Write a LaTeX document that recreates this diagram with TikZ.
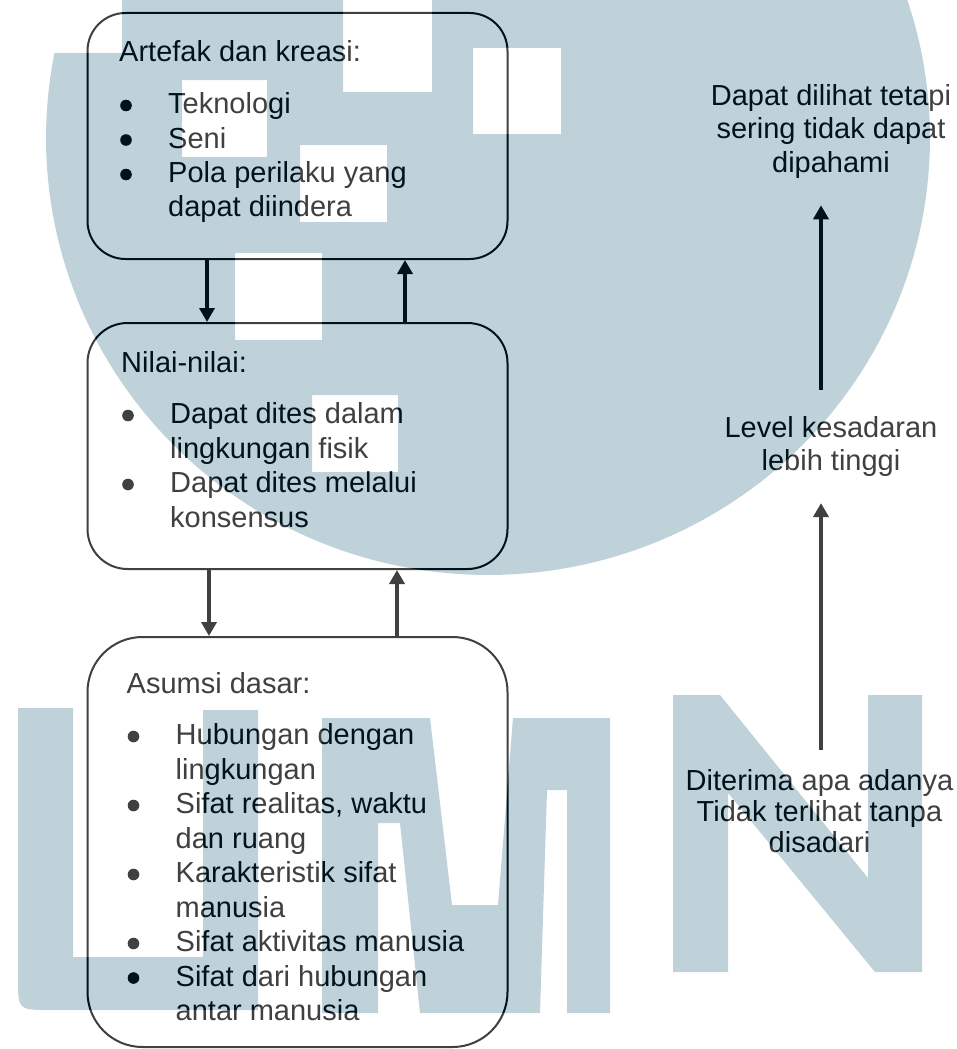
\documentclass[tikz,border=0pt]{standalone}
\usepackage{fontspec}
\setmainfont{Liberation Sans}
\usetikzlibrary{arrows.meta}
\definecolor{markblue}{RGB}{7,79,107}
\newcommand{\ind}{\hspace*{49pt}}
\tikzset{
  roundbox/.style={draw=black, line width=2pt, rounded corners=#1,
    minimum width=420pt, inner sep=0pt},
  listtext/.style={font=\fontsize{29pt}{34.5pt}\selectfont, inner sep=0pt, text=black},
  sidetext/.style={font=\fontsize{29pt}{#1}\selectfont, inner sep=0pt, text=black},
  flow/.style={draw=black, line width=3.5pt,
    -{Triangle[length=14pt,width=15pt]}},
  % faint emblem laid over the whole sheet: arc with square cut-outs, letters U M N
  emblem/.style={insert path={
    (122,53) -- (122,-5) --
      plot[domain=-19.1:191.22, samples=140] ({488+442*cos(\x)},{138+437*sin(\x)}) -- cycle
    (343,-5) rectangle (432,92)
    (473,48) rectangle (561,134)
    (182,80) rectangle (267,157)
    (300,145) rectangle (387,222)
    (235,253) rectangle (322,340)
    (312,395) rectangle (398,472)
    (18,708) -- (73,708) -- (73,957) -- (203,957) -- (203,710) -- (258,710)
      -- (258,1010) -- (50,1010) .. controls (18,1010) .. (18,978) -- cycle
    (322,718) -- (430,718) -- (452,905) -- (498,905) -- (513,718) -- (610,718)
      -- (610,1013) -- (567,1013) -- (567,790) -- (547,790) -- (540,1013)
      -- (420,1013) -- (400,823) -- (378,823) -- (378,1013) -- (322,1013) -- cycle
    (673,695) -- (720,695) -- (868,878) -- (868,695) -- (922,695) -- (922,972)
      -- (875,972) -- (728,793) -- (728,972) -- (673,972) -- cycle
  }}
}
\begin{document}
\begin{tikzpicture}[x=1pt, y=-1pt]
\useasboundingbox (0,0) rectangle (957,1049);
\fill[white] (0,0) rectangle (957,1049);

% the three levels
\node[roundbox=38pt, minimum height=246pt] (art) at (297.5,136) {};
\node[roundbox=40pt, minimum height=246pt] (nil) at (297.5,446) {};
\node[roundbox=55pt, minimum height=410pt] (asm) at (297.5,842) {};

\node[listtext, anchor=base west] (artT) at (119,62) {\begin{tabular}[t]{@{}l@{}}
  Artefak dan kreasi:\\[17pt]
  \ind Teknologi\\
  \ind Seni\\
  \ind Pola perilaku yang\\
  \ind dapat diindera
\end{tabular}};

\node[listtext, anchor=base west] (nilT) at (121,372) {\begin{tabular}[t]{@{}l@{}}
  Nilai-nilai:\\[17pt]
  \ind Dapat dites dalam\\
  \ind lingkungan fisik\\
  \ind Dapat dites melalui\\
  \ind konsensus
\end{tabular}};

\node[listtext, anchor=base west] (asmT) at (126.5,693) {\begin{tabular}[t]{@{}l@{}}
  Asumsi dasar:\\[17pt]
  \ind Hubungan dengan\\
  \ind lingkungan\\
  \ind Sifat realitas, waktu\\
  \ind dan ruang\\
  \ind Karakteristik sifat\\
  \ind manusia\\
  \ind Sifat aktivitas manusia\\
  \ind Sifat dari hubungan\\
  \ind antar manusia
\end{tabular}};

% list bullets
\foreach \y in {105.5,140,174.5} \fill[black] (126,\y) circle (5.8pt);
\foreach \y in {415.5,484.5} \fill[black] (128,\y) circle (5.8pt);
\foreach \y in {736.5,805.5,874.5,943.5,978} \fill[black] (133.5,\y) circle (5.8pt);

% links between the levels
\coordinate (d1) at (207,0);
\coordinate (u1) at (405,0);
\coordinate (d2) at (209,0);
\coordinate (u2) at (397,0);
\draw[flow] (art.south -| d1) -- (nil.north -| d1);
\draw[flow] (nil.north -| u1) -- (art.south -| u1);
\draw[flow] (nil.south -| d2) -- (asm.north -| d2);
\draw[flow] (asm.north -| u2) -- (nil.south -| u2);

% awareness scale
\node[sidetext=33.5pt, anchor=base] (vis) at (831,105) {\begin{tabular}[t]{@{}c@{}}
  Dapat dilihat tetapi\\ sering tidak dapat\\ dipahami\end{tabular}};
\node[sidetext=33pt, anchor=base] (lvl) at (831,437) {\begin{tabular}[t]{@{}c@{}}
  Level kesadaran\\ lebih tinggi\end{tabular}};
\node[sidetext=31pt, anchor=base] (dit) at (819.5,790) {\begin{tabular}[t]{@{}c@{}}
  Diterima apa adanya\\ Tidak terlihat tanpa\\ disadari\end{tabular}};

\coordinate (rx) at (821,0);
\draw[flow, shorten <=24pt, shorten >=23pt] (lvl.north -| rx) -- (vis.south -| rx);
\draw[flow, shorten <=18pt, shorten >=23pt] (dit.north -| rx) -- (lvl.south -| rx);

% emblem overlay
\fill[white, opacity=0.25, even odd rule] (0,0) rectangle (957,1049) [emblem];
\fill[markblue, opacity=0.25, even odd rule, emblem];
\end{tikzpicture}
\end{document}
